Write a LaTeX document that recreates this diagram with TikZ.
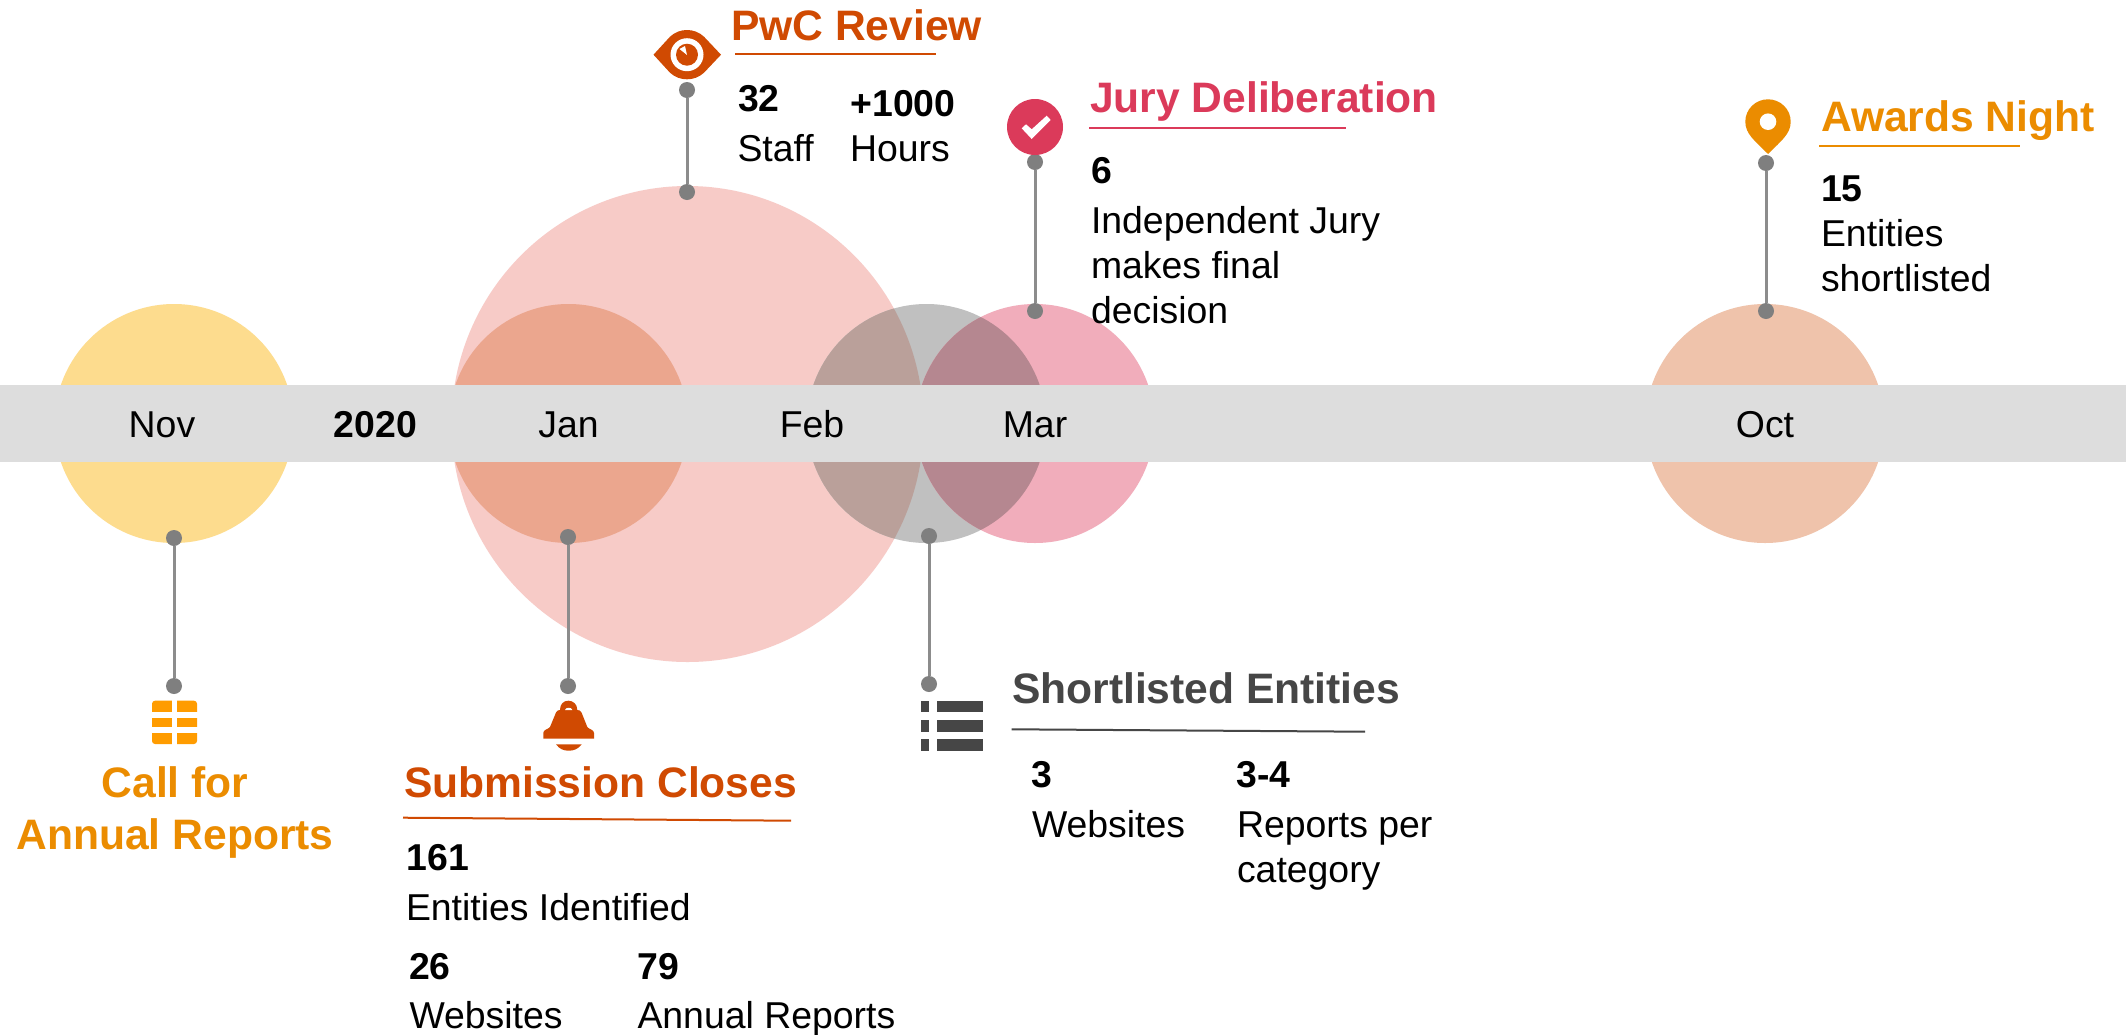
\documentclass[tikz,border=0pt]{standalone}
\usepackage{fontspec}
\setmainfont{Liberation Sans}
\definecolor{pwcorange}{HTML}{D04A02}
\definecolor{amberc}{HTML}{EB8C00}
\definecolor{tablec}{HTML}{FF9C00}
\definecolor{roseC}{HTML}{DB3A5A}
\definecolor{darkg}{HTML}{464646}
\definecolor{bandc}{HTML}{DDDDDD}
\definecolor{dotc}{HTML}{7F7F7F}
\definecolor{linec}{HTML}{8C8C8C}
\tikzset{
  x=1pt,y=-1pt,
  dotnode/.style={circle,fill=dotc,draw=none,minimum size=16pt,inner sep=0pt},
  conn/.style={draw=linec,line width=3pt},
  txt/.style={inner sep=0pt,outer sep=0pt,anchor=base west,text=black,xshift=1pt,yshift=-1.2pt},
  body/.style={txt,font=\fontsize{37.4}{45}\selectfont},
  num/.style={txt,font=\fontsize{37.4}{45}\selectfont\bfseries},
  title/.style={txt,font=\fontsize{42.6}{51.6}\selectfont\bfseries},
  month/.style={inner sep=0pt,outer sep=0pt,anchor=base,text=black,yshift=-1.2pt,font=\fontsize{37.4}{45}\selectfont},
  rule/.style={line width=2pt},
}
\begin{document}
\begin{tikzpicture}
\useasboundingbox (0,0) rectangle (2126,1034);
% circles
\fill[fill=white] (0,0) rectangle (2126,1034);
\fill[color={rgb,255:red,253;green,220;blue,142}] (174,423.5) circle[radius=119.5];
\fill[color={rgb,255:red,247;green,203;blue,199}] (687.5,424) ellipse[x radius=236,y radius=238];
\fill[color={rgb,255:red,235;green,166;blue,142}] (568.5,423.5) circle[radius=119.5];
\fill[color={rgb,255:red,192;green,192;blue,192}] (926.5,423.5) circle[radius=119.5];
\fill[color={rgb,255:red,241;green,173;blue,187}] (1035,423.5) circle[radius=119.5];
\begin{scope}
  \clip (926.5,423.5) circle[radius=119.5];
  \fill[color={rgb,255:red,186;green,160;blue,154}] (687.5,424) ellipse[x radius=236,y radius=238];
  \fill[color={rgb,255:red,181;green,135;blue,144}] (1035,423.5) circle[radius=119.5];
\end{scope}
\fill[color={rgb,255:red,239;green,195;blue,171}] (1765,423.5) circle[radius=119.5];
% band
\fill[bandc] (0,385) rectangle (2126,462);
\node[month] (nov) at (162,436.7) {Nov};
\node[month,font=\fontsize{37.4}{45}\selectfont\bfseries] (yr) at (375.5,436.7) {2020};
\node[month] (jan) at (568.5,436.7) {Jan};
\node[month] (feb) at (812,436.7) {Feb};
\node[month] (mar) at (1035,436.7) {Mar};
\node[month] (oct) at (1765,436.7) {Oct};
% stems
\node[dotnode] (n1) at (174,538) {};
\node[dotnode] (n2) at (174,686) {};
\node[dotnode] (j1) at (568,537) {};
\node[dotnode] (j2) at (568,686) {};
\node[dotnode] (p1) at (687,192) {};
\node[dotnode] (p2) at (687,90) {};
\node[dotnode] (s1) at (929,536) {};
\node[dotnode] (s2) at (929,684) {};
\node[dotnode] (m1) at (1035,311) {};
\node[dotnode] (m2) at (1035,162) {};
\node[dotnode] (o1) at (1766,311) {};
\node[dotnode] (o2) at (1766,163) {};
\draw[conn] (n1) -- (n2);
\draw[conn] (j1) -- (j2);
\draw[conn] (p1) -- (p2);
\draw[conn] (s1) -- (s2);
\draw[conn] (m1) -- (m2);
\draw[conn] (o1) -- (o2);
% eye icon
\fill[pwcorange] (653.5,54.7) -- (670,36.7) .. controls (675,32) and (681,30) .. (687,30) .. controls (693,30) and (699,32) .. (704,36.7) -- (721,54.7) -- (704,72.7) .. controls (699,77.3) and (693,79.3) .. (687,79.3) .. controls (681,79.3) and (675,77.3) .. (670,72.7) -- cycle;
\fill[white] (687,54.7) circle[radius=16.5];
\fill[pwcorange] (687,54.7) circle[radius=11];
\fill[white] (687,55) -- (679.5,49) -- (685,46) -- cycle;
% check icon
\fill[roseC] (1035,127) circle[radius=28];
\fill[white] (1021.7,128.3) -- (1026,124.3) -- (1031.7,129.3) -- (1046.7,115.7) -- (1050.7,120) -- (1031.7,139) -- cycle;
% pin icon
\fill[amberc] (1745.3,121.7) .. controls (1745.3,109.2) and (1755.5,99.3) .. (1768,99.3) .. controls (1780.5,99.3) and (1790.7,109.2) .. (1790.7,121.7) .. controls (1790.7,134) and (1781,141) .. (1768,154) .. controls (1755,141) and (1745.3,134) .. (1745.3,121.7) -- cycle;
\fill[white] (1768,121.7) circle[radius=8.3];
% table icon
\fill[tablec,rounded corners=3pt] (152,700.7) rectangle (197,744);
\fill[white] (171.7,700) rectangle (177,745);
\fill[white] (151,712.3) rectangle (198,718);
\fill[white] (151,727.3) rectangle (198,732.7);
% bell icon
\fill[pwcorange] (543.3,738.7) -- (543.3,733) .. controls (543.3,729.5) and (548,729.5) .. (550,727) -- (556,712.5) .. controls (557,710.5) and (558.5,710) .. (560,710) .. controls (560,704) and (563.5,700.7) .. (568.3,700.7) .. controls (573,700.7) and (577.3,704) .. (577.3,710) .. controls (579,710) and (580.5,710.5) .. (581.5,712.5) -- (587.3,727) .. controls (589,729.5) and (594,729.5) .. (594,733) -- (594,738.7) -- cycle;
\fill[white] (565,710) .. controls (565.5,707) and (572,707) .. (572.3,710) -- cycle;
\fill[pwcorange] (556,744.3) -- (581.7,744.3) .. controls (578,749) and (574,750.7) .. (568.8,750.7) .. controls (563.5,750.7) and (559.5,749) .. (556,744.3) -- cycle;
% list icon
\fill[darkg] (921,701) rectangle (929,712.3);
\fill[darkg] (936.7,701) rectangle (982.7,712.3);
\fill[darkg] (921,720) rectangle (929,731.7);
\fill[darkg] (936.7,720) rectangle (982.7,731.7);
\fill[darkg] (921,739.3) rectangle (929,750.7);
\fill[darkg] (936.7,739.3) rectangle (982.7,750.7);
% PwC Review
\node[title,text=pwcorange] (t1) at (730,39) {PwC Review};
\draw[rule,pwcorange] (735,53.5) -- (936,53.5);
\node[num] (a1) at (737,110) {32};
\node[body] (a2) at (736.5,160) {Staff};
\node[num] (a3) at (849.5,115) {+1000};
\node[body] (a4) at (849,160) {Hours};
% Jury
\node[title,text=roseC] (t2) at (1089,111.5) {Jury Deliberation};
\draw[rule,roseC] (1089,127.7) -- (1346,127.7);
\node[num] (b1) at (1090,182) {6};
\node[body,align=left] (b2) at (1090,322) {Independent Jury\\makes final\\decision};
% Awards
\node[title,text=amberc] (t3) at (1820,130) {Awards Night};
\draw[rule,amberc] (1819,146) -- (2020,146);
\node[num] (c1) at (1820,200.7) {15};
\node[body,align=left] (c2) at (1820,290.7) {Entities\\shortlisted};
% Call
\node[title,text=amberc,align=center,anchor=base,xshift=-1pt] (t4) at (175,848.3) {Call for\\Annual Reports};
% Submission
\node[title,text=pwcorange] (t5) at (403,796.7) {Submission Closes};
\draw[rule,pwcorange] (403,817.7) -- (791,820.7);
\node[num] (d1) at (405.5,869) {161};
\node[body] (d2) at (405,919) {Entities Identified};
\node[num] (d3) at (408,978) {26};
\node[body] (d4) at (408.5,1027) {Websites};
\node[num] (d5) at (636.5,978) {79};
\node[body] (d6) at (636.5,1027) {Annual Reports};
% Shortlisted
\node[title,text=darkg] (t6) at (1011,702.7) {Shortlisted Entities};
\draw[rule,darkg] (1011.7,729.3) -- (1365,731.7);
\node[num] (e1) at (1030,786.7) {3};
\node[body] (e2) at (1031,836.7) {Websites};
\node[num] (e3) at (1235.5,786.7) {3-4};
\node[body,align=left] (e4) at (1236,881.7) {Reports per\\category};
\end{tikzpicture}
\end{document}
